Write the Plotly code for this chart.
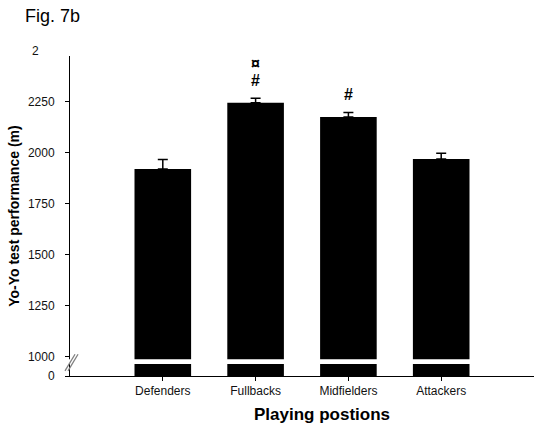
import plotly.graph_objects as go

categories = ["Defenders", "Fullbacks", "Midfielders", "Attackers"]
means = [1919, 2243, 2173, 1968]
sems = [47, 22, 23, 28]
markers = ["", "¤<br>#", "#", ""]
ytick_vals = [1000, 1250, 1500, 1750, 2000, 2250]
ytick_text = ["1000", "1250", "1500", "1750", "2000", "2250"]

FONT = "Arial, Liberation Sans, sans-serif"
Y_BOTTOM = 906      # where the broken axis reads "0"
Y_TOP = 2472
BREAK_LO, BREAK_HI = 965, 988

fig = go.Figure()
fig.add_trace(go.Bar(
    x=categories, y=means,
    marker=dict(color="black", line=dict(width=0)),
    error_y=dict(type="data", symmetric=False, array=sems,
                 arrayminus=[0] * len(sems), color="black",
                 thickness=1.5, width=5),
    hoverinfo="skip",
))

# significance symbols above bars
for c, m, s, t in zip(categories, means, sems, markers):
    if not t:
        continue
    lines = t.split("<br>")
    for k, txt in enumerate(reversed(lines)):
        fig.add_annotation(x=c, y=m + s, xref="x", yref="y",
                           text="<b>" + txt + "</b>",
                           showarrow=False, yanchor="middle",
                           yshift=18 + 17 * k,
                           font=dict(family=FONT, size=16, color="black"))

# white band for axis break across all bars and the y axis line
fig.add_shape(type="rect", xref="paper", yref="y", x0=-0.005, x1=1.0,
              y0=BREAK_LO, y1=BREAK_HI, fillcolor="white",
              line=dict(width=0), layer="above")
# break slashes
for dx in (0.0, 0.0065):
    fig.add_shape(type="line", xref="paper", yref="paper",
                  x0=-0.0108 + dx, y0=0.016, x1=0.0108 + dx, y1=0.068,
                  line=dict(color="#808080", width=1.3), layer="above")

fig.update_layout(
    width=559, height=433,
    margin=dict(l=70, r=25, t=56, b=57, autoexpand=False),
    paper_bgcolor="white", plot_bgcolor="white",
    showlegend=False, bargap=0.39,
    font=dict(family=FONT, size=12, color="black"),
    xaxis=dict(type="category", range=[-1, 4], showline=True,
               linecolor="black", linewidth=1, ticks="outside",
               ticklen=4, tickcolor="black", showgrid=False,
               zeroline=False, tickfont=dict(size=12, color="#111")),
    yaxis=dict(range=[Y_BOTTOM, Y_TOP], showline=True, linecolor="black",
               linewidth=1, ticks="outside", ticklen=4, tickcolor="black",
               tickvals=[Y_BOTTOM] + ytick_vals,
               ticktext=["0"] + ytick_text,
               ticklabelstandoff=8,
               showgrid=False, zeroline=False,
               tickfont=dict(size=12, color="#111")),
)

fig.add_annotation(text="2", xref="paper", yref="paper", x=-0.0862, y=1.0156,
                   xanchor="left", yanchor="middle", showarrow=False,
                   font=dict(size=12, color="#111"))
fig.add_annotation(text="Fig. 7b", xref="paper", yref="paper",
                   x=-0.1013, y=1.125, xanchor="left", yanchor="middle",
                   showarrow=False, font=dict(size=18, color="black"))
fig.add_annotation(text="<b>Yo-Yo test performance (m)</b>", xref="paper",
                   yref="paper", x=-0.121, y=0.5, textangle=-90,
                   xanchor="center", yanchor="middle", showarrow=False,
                   font=dict(size=14, color="black"))
fig.add_annotation(text="<b>Playing postions</b>", xref="paper",
                   yref="paper", x=0.543, y=-0.119, xanchor="center",
                   yanchor="middle", showarrow=False,
                   font=dict(size=17, color="black"))

fig.write_html("out.html", config={"displayModeBar": False},
               post_script="document.body.style.margin='0';"
                           "document.body.style.overflow='hidden';")
